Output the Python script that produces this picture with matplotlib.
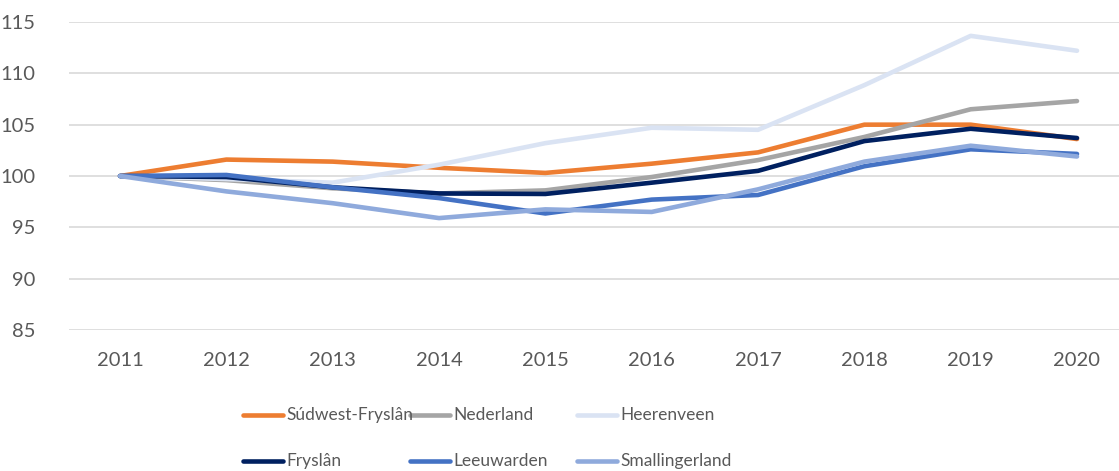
import matplotlib
matplotlib.use('Agg')
import matplotlib.pyplot as plt
from matplotlib.lines import Line2D

plt.rcParams['font.family'] = ['Lato', 'DejaVu Sans']

# index values per year (2011 = 100)
years = ['2011', '2012', '2013', '2014', '2015', '2016', '2017', '2018', '2019', '2020']
sudwest = [100, 101.6, 101.4, 100.8, 100.3, 101.2, 102.3, 105.0, 105.0, 103.6]
nederland = [100, 99.6, 98.8, 98.3, 98.6, 99.9, 101.55, 103.8, 106.5, 107.3]
heerenveen = [100, 99.7, 99.35, 101.1, 103.2, 104.7, 104.5, 108.85, 113.65, 112.2]
fryslan = [100, 99.9, 98.9, 98.3, 98.25, 99.35, 100.5, 103.4, 104.6, 103.7]
leeuwarden = [100, 100.1, 98.9, 97.85, 96.35, 97.7, 98.15, 100.95, 102.6, 102.15]
smallingerland = [100, 98.5, 97.35, 95.9, 96.75, 96.5, 98.7, 101.4, 102.95, 101.9]

names = ['Súdwest-Fryslân', 'Nederland', 'Heerenveen', 'Fryslân', 'Leeuwarden', 'Smallingerland']
series = [sudwest, nederland, heerenveen, fryslan, leeuwarden, smallingerland]
colors = ['#ED7D31', '#A5A5A5', '#DAE3F3', '#002060', '#4472C4', '#8FAADC']

W, H = 1119, 471
fig = plt.figure(figsize=(W / 100, H / 100), dpi=100)
ax = fig.add_axes([69 / W, 1 - 330 / H, 1 - 69 / W, (330 - 22) / H])

x = list(range(len(years)))
for vals, col in zip(series, colors):
    ax.plot(x, vals, color=col, lw=3.3, solid_capstyle='round', solid_joinstyle='round')

ax.set_xlim(-0.48, 9.395)
ax.set_ylim(85, 115)
ax.set_yticks(range(85, 116, 5))
ax.set_xticks(x)
ax.set_xticklabels(years)
ax.grid(axis='y', color='#D9D9D9', lw=1.2)
ax.set_axisbelow(True)
for s in ax.spines.values():
    s.set_visible(False)
ax.tick_params(length=0, labelsize=14.5, colors='#595959')
ax.tick_params(axis='x', pad=16)
ax.tick_params(axis='y', pad=24)

# legend laid out like Excel: 3 equal columns, 2 rows
col_x = [243, 410, 577]
row_y = [415, 461]
for i, (name, col) in enumerate(zip(names, colors)):
    cx = col_x[i % 3]
    cy = row_y[i // 3]
    fig.add_artist(Line2D([cx / W, (cx + 40) / W], [1 - cy / H, 1 - cy / H],
                          color=col, lw=3.3, solid_capstyle='round'))
    fig.text((cx + 43) / W, 1 - cy / H, name, fontsize=12.5, color='#595959',
             va='center', ha='left')

fig.savefig('out.png', dpi=100)
